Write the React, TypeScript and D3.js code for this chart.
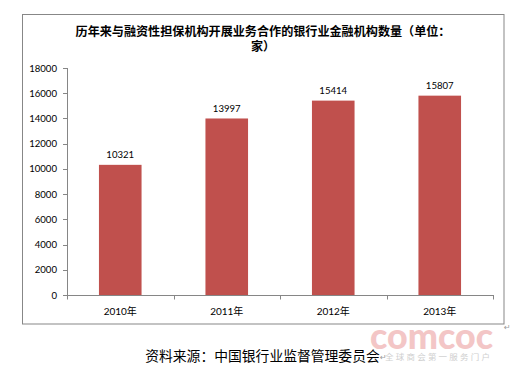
import React from "react";
import * as d3 from "d3";

const categories = ["2010年", "2011年", "2012年", "2013年"];
const values = [10321, 13997, 15414, 15807];
const yTicks = [0, 2000, 4000, 6000, 8000, 10000, 12000, 14000, 16000, 18000];
const titleLines = ["历年来与融资性担保机构开展业务合作的银行业金融机构数量（单位：", "家）"];
const sourceText = "资料来源：中国银行业监督管理委员会";
const watermark = "comcoc";
const watermarkSub = "全球商会第一服务门户";

const W = 518;
const H = 369;
const plot = { left: 67, right: 493, top: 68, bottom: 295 };
const AXIS = "#868686";
const BAR = "#C0504D";
const NUM_FONT = "Lato, 'Noto Sans CJK SC', sans-serif";
const CJK_FONT = "'Noto Sans CJK SC', sans-serif";

export default function App() {
  const x = d3
    .scaleBand<string>()
    .domain(categories)
    .range([plot.left, plot.right])
    .paddingInner(0)
    .paddingOuter(0);
  const y = d3.scaleLinear().domain([0, 18000]).range([plot.bottom, plot.top]);
  const bw = x.bandwidth() / 2.5;
  const boundaries = [...categories.map((c) => x(c) as number), plot.right];

  return (
    <div style={{ position: "absolute", left: 0, top: 0, width: W, height: H, background: "#fff" }}>
      <svg width={W} height={H} style={{ display: "block" }}>
        <rect x={0} y={0} width={W} height={H} fill="#fff" />
        {/* frame */}
        <rect x={22.5} y={14.5} width={481.5} height={309.5} fill="#fff" stroke="#878787" strokeWidth={1} />
        {/* title */}
        {titleLines.map((t, i) => (
          <text
            key={i}
            x={263}
            y={30.5 + i * 15}
            textAnchor="middle"
            dominantBaseline="central"
            fontFamily={CJK_FONT}
            fontWeight={700}
            fontSize={12.1}
            fill="#000"
          >
            {t}
          </text>
        ))}
        {/* bars */}
        {values.map((v, i) => {
          const cx = (x(categories[i]) as number) + x.bandwidth() / 2;
          return (
            <g key={i}>
              <rect x={cx - bw / 2} y={y(v)} width={bw} height={y(0) - y(v)} fill={BAR} />
              <text
                x={cx}
                y={y(v) - 10}
                textAnchor="middle"
                dominantBaseline="central"
                fontFamily={NUM_FONT}
                fontSize={9.6}
                fill="#000"
              >
                {v}
              </text>
            </g>
          );
        })}
        {/* y axis */}
        <line x1={plot.left + 0.5} x2={plot.left + 0.5} y1={plot.top} y2={plot.bottom} stroke={AXIS} />
        {yTicks.map((t) => (
          <g key={t}>
            <line x1={plot.left - 4} x2={plot.left + 0.5} y1={Math.round(y(t)) + 0.5} y2={Math.round(y(t)) + 0.5} stroke={AXIS} />
            <text
              x={57}
              y={y(t)}
              textAnchor="end"
              dominantBaseline="central"
              fontFamily={NUM_FONT}
              fontSize={9.6}
              fill="#000"
            >
              {t}
            </text>
          </g>
        ))}
        {/* x axis */}
        <line x1={plot.left} x2={plot.right} y1={plot.bottom + 0.5} y2={plot.bottom + 0.5} stroke={AXIS} />
        {boundaries.map((b, i) => (
          <line key={i} x1={Math.round(b) + 0.5} x2={Math.round(b) + 0.5} y1={plot.bottom} y2={plot.bottom + 4.5} stroke={AXIS} />
        ))}
        {categories.map((c) => (
          <text
            key={c}
            x={(x(c) as number) + x.bandwidth() / 2}
            y={310.5}
            textAnchor="middle"
            dominantBaseline="central"
            fontFamily={NUM_FONT}
            fontSize={10}
            fill="#000"
          >
            {c}
          </text>
        ))}
        {/* paragraph marks */}
        <text x={504} y={327} fontFamily="'DejaVu Sans', sans-serif" fontSize={8} fill="#9a9a9a" dominantBaseline="central">
          ↵
        </text>
        {/* watermark */}
        <text
          x={370}
          y={335}
          dominantBaseline="central"
          fontFamily="Lato, sans-serif"
          fontWeight={900}
          fontSize={36}
          textLength={123}
          lengthAdjust="spacingAndGlyphs"
          fill="#f3c6c6"
        >
          {watermark}
        </text>
        <text
          x={385}
          y={356}
          dominantBaseline="central"
          fontFamily={CJK_FONT}
          fontSize={8.5}
          textLength={105}
          lengthAdjust="spacing"
          fill="#cfcfcf"
        >
          {watermarkSub}
        </text>
        {/* source */}
        <text
          x={262.5}
          y={355}
          textAnchor="middle"
          dominantBaseline="central"
          fontFamily={CJK_FONT}
          fontSize={13.8}
          fill="#000"
        >
          {sourceText}
        </text>
        <text x={380} y={357} fontFamily="'DejaVu Sans', sans-serif" fontSize={8} fill="#9a9a9a" dominantBaseline="central">
          ↵
        </text>
      </svg>
    </div>
  );
}
